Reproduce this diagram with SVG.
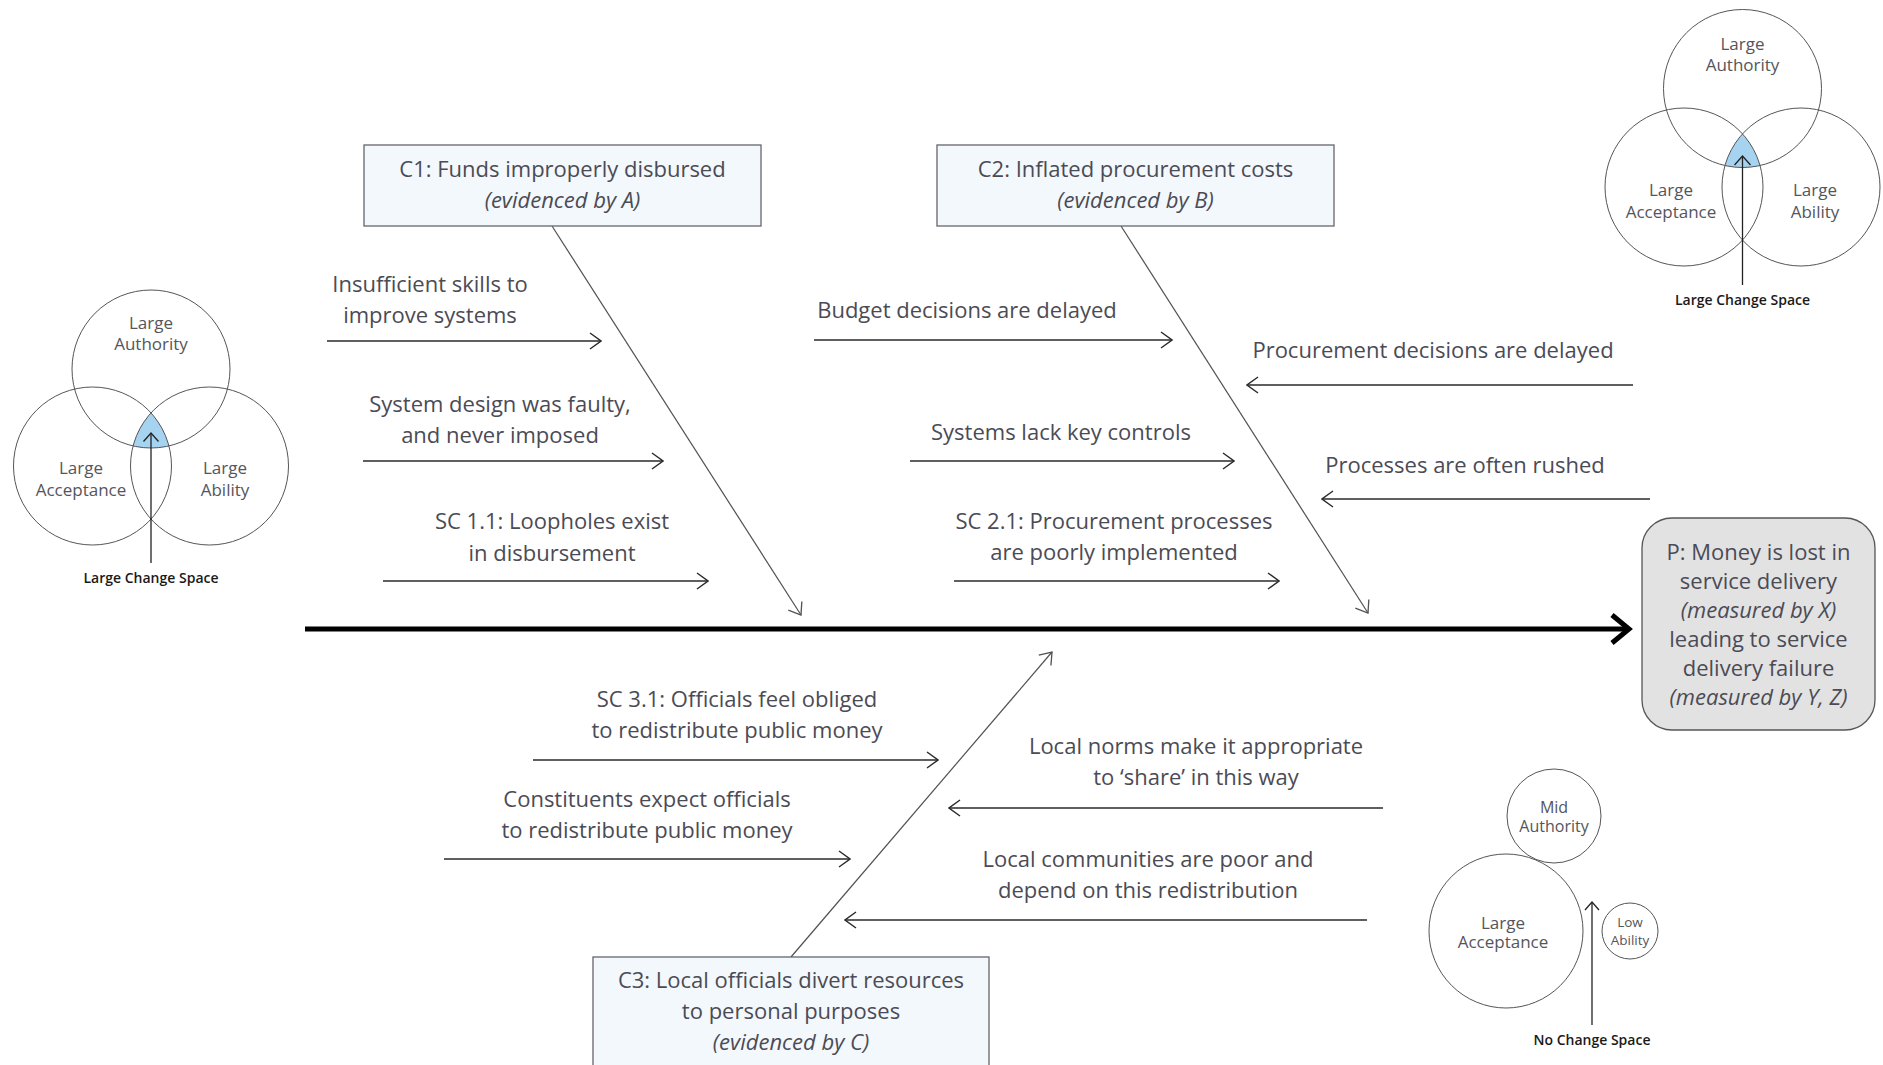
<svg xmlns="http://www.w3.org/2000/svg" width="1883" height="1065" viewBox="0 0 1883 1065">
<defs>
<style>
text{font-family:"Open Sans","Noto Sans","Liberation Sans",sans-serif;fill:#4b4b55;text-anchor:middle}
.t{font-size:22px}
.it{font-style:italic}
.v{font-size:17px;fill:#55555c}
.vs{font-size:16px;fill:#55555c}
.vx{font-size:13.5px;fill:#55555c}
.cs{font-size:14px;font-weight:600;fill:#1a1a1a}
.box{fill:#f3f8fc;stroke:#66666c;stroke-width:1.3}
.pbox{fill:#e2e2e3;stroke:#55555a;stroke-width:1.3}
.circ{fill:none;stroke:#55555a;stroke-width:1}
.blue{fill:#a6d3ef}
.arr{fill:none;stroke:#2a2a2a;stroke-width:1.4;marker-end:url(#ah)}
.diag{fill:none;stroke:#505055;stroke-width:1.2;marker-end:url(#ahg)}
.varr{fill:none;stroke:#222;stroke-width:1.3}
</style>
<marker id="ah" viewBox="0 0 13 18" refX="12" refY="9" markerWidth="13" markerHeight="18" orient="auto" markerUnits="userSpaceOnUse">
<path d="M1,1 L12,9 L1,17" fill="none" stroke="#2a2a2a" stroke-width="1.4"/>
</marker>
<marker id="ahg" viewBox="0 0 13 18" refX="12" refY="9" markerWidth="13" markerHeight="18" orient="auto" markerUnits="userSpaceOnUse">
<path d="M1,1 L12,9 L1,17" fill="none" stroke="#505055" stroke-width="1.3"/>
</marker>
<clipPath id="cTRL"><circle cx="1684" cy="187" r="79"/></clipPath>
<clipPath id="cTRR"><circle cx="1801" cy="187" r="79"/></clipPath>
<clipPath id="cLL"><circle cx="92.5" cy="466" r="79"/></clipPath>
<clipPath id="cLR"><circle cx="209.5" cy="466" r="79"/></clipPath>
</defs>

<g id="connectors">
<line x1="305" y1="629" x2="1626" y2="629" stroke="#000" stroke-width="5"/>
<path d="M1612,615 L1629,629 L1612,643" fill="none" stroke="#000" stroke-width="5"/>
<line class="diag" x1="552" y1="226" x2="801" y2="615"/>
<line class="diag" x1="1121" y1="226" x2="1368" y2="613"/>
<line class="diag" x1="791" y1="957" x2="1052" y2="652"/>
<line class="arr" x1="327" y1="341" x2="601" y2="341"/>
<line class="arr" x1="363" y1="461" x2="663" y2="461"/>
<line class="arr" x1="383" y1="581" x2="708" y2="581"/>
<line class="arr" x1="814" y1="340" x2="1172" y2="340"/>
<line class="arr" x1="910" y1="461" x2="1234" y2="461"/>
<line class="arr" x1="954" y1="581" x2="1279" y2="581"/>
<line class="arr" x1="1633" y1="385" x2="1247" y2="385"/>
<line class="arr" x1="1650" y1="499" x2="1322" y2="499"/>
<line class="arr" x1="533" y1="760" x2="938" y2="760"/>
<line class="arr" x1="444" y1="859" x2="850" y2="859"/>
<line class="arr" x1="1383" y1="808" x2="949" y2="808"/>
<line class="arr" x1="1367" y1="920" x2="845" y2="920"/>
</g>

<g id="c1">
<rect class="box" x="364" y="145" width="397" height="81"/>
<text class="t" x="562.5" y="177">C1: Funds improperly disbursed</text>
<text class="t it" x="562.5" y="208">(evidenced by A)</text>
</g>
<g id="c2">
<rect class="box" x="937" y="145" width="397" height="81"/>
<text class="t" x="1135.5" y="177">C2: Inflated procurement costs</text>
<text class="t it" x="1135.5" y="208">(evidenced by B)</text>
</g>
<g id="c3">
<rect class="box" x="593" y="957" width="396" height="115"/>
<text class="t" x="791" y="988">C3: Local officials divert resources</text>
<text class="t" x="791" y="1019">to personal purposes</text>
<text class="t it" x="791" y="1050">(evidenced by C)</text>
</g>
<g id="p">
<rect class="pbox" x="1642" y="518" width="233" height="212" rx="30" ry="30"/>
<text class="t" x="1758.5" y="560">P: Money is lost in</text>
<text class="t" x="1758.5" y="589">service delivery</text>
<text class="t it" x="1758.5" y="618">(measured by X)</text>
<text class="t" x="1758.5" y="647">leading to service</text>
<text class="t" x="1758.5" y="676">delivery failure</text>
<text class="t it" x="1758.5" y="705">(measured by Y, Z)</text>
</g>

<g id="sc11-causes">
<text class="t" x="430" y="292">Insufficient skills to</text>
<text class="t" x="430" y="323">improve systems</text>
<text class="t" x="500" y="412">System design was faulty,</text>
<text class="t" x="500" y="443">and never imposed</text>
<text class="t" x="552" y="529">SC 1.1: Loopholes exist</text>
<text class="t" x="552" y="561">in disbursement</text>
</g>
<g id="c2-causes">
<text class="t" x="967" y="318">Budget decisions are delayed</text>
<text class="t" x="1061" y="440">Systems lack key controls</text>
<text class="t" x="1114" y="529">SC 2.1: Procurement processes</text>
<text class="t" x="1114" y="560">are poorly implemented</text>
<text class="t" x="1433" y="358">Procurement decisions are delayed</text>
<text class="t" x="1465" y="473">Processes are often rushed</text>
</g>
<g id="c3-causes">
<text class="t" x="737" y="707">SC 3.1: Officials feel obliged</text>
<text class="t" x="737" y="738">to redistribute public money</text>
<text class="t" x="647" y="807">Constituents expect officials</text>
<text class="t" x="647" y="838">to redistribute public money</text>
<text class="t" x="1196" y="754">Local norms make it appropriate</text>
<text class="t" x="1196" y="785">to ‘share’ in this way</text>
<text class="t" x="1148" y="867">Local communities are poor and</text>
<text class="t" x="1148" y="898">depend on this redistribution</text>
</g>

<g id="venn-left">
<g clip-path="url(#cLL)"><circle class="blue" cx="151" cy="369" r="79" clip-path="url(#cLR)"/></g>
<circle class="circ" cx="151" cy="369" r="79"/>
<circle class="circ" cx="92.5" cy="466" r="79"/>
<circle class="circ" cx="209.5" cy="466" r="79"/>
<line class="varr" x1="151" y1="563" x2="151" y2="433"/>
<path class="varr" d="M143.5,441.5 L151,433 L158.5,441.5"/>
<text class="v" x="151" y="329">Large</text>
<text class="v" x="151" y="350">Authority</text>
<text class="v" x="81" y="474">Large</text>
<text class="v" x="81" y="496">Acceptance</text>
<text class="v" x="225" y="474">Large</text>
<text class="v" x="225" y="496">Ability</text>
<text class="cs" x="151" y="583">Large Change Space</text>
</g>

<g id="venn-top-right">
<g clip-path="url(#cTRL)"><circle class="blue" cx="1742.5" cy="88.5" r="79" clip-path="url(#cTRR)"/></g>
<circle class="circ" cx="1742.5" cy="88.5" r="79"/>
<circle class="circ" cx="1684" cy="187" r="79"/>
<circle class="circ" cx="1801" cy="187" r="79"/>
<line class="varr" x1="1742.5" y1="285" x2="1742.5" y2="156"/>
<path class="varr" d="M1734.5,165 L1742.5,156 L1750.5,165"/>
<text class="v" x="1742.5" y="50">Large</text>
<text class="v" x="1742.5" y="71">Authority</text>
<text class="v" x="1671" y="196">Large</text>
<text class="v" x="1671" y="218">Acceptance</text>
<text class="v" x="1815" y="196">Large</text>
<text class="v" x="1815" y="218">Ability</text>
<text class="cs" x="1742.5" y="305">Large Change Space</text>
</g>

<g id="venn-bottom-right">
<circle class="circ" cx="1554" cy="816" r="47"/>
<circle class="circ" cx="1506" cy="931" r="77"/>
<circle class="circ" cx="1630" cy="931" r="28"/>
<line class="varr" x1="1592" y1="1025" x2="1592" y2="902"/>
<path class="varr" d="M1585,910 L1592,902 L1599,910"/>
<text class="vs" x="1554" y="813">Mid</text>
<text class="vs" x="1554" y="832">Authority</text>
<text class="v" x="1503" y="929">Large</text>
<text class="v" x="1503" y="948">Acceptance</text>
<text class="vx" x="1630" y="927">Low</text>
<text class="vx" x="1630" y="945">Ability</text>
<text class="cs" x="1592" y="1045">No Change Space</text>
</g>
</svg>
